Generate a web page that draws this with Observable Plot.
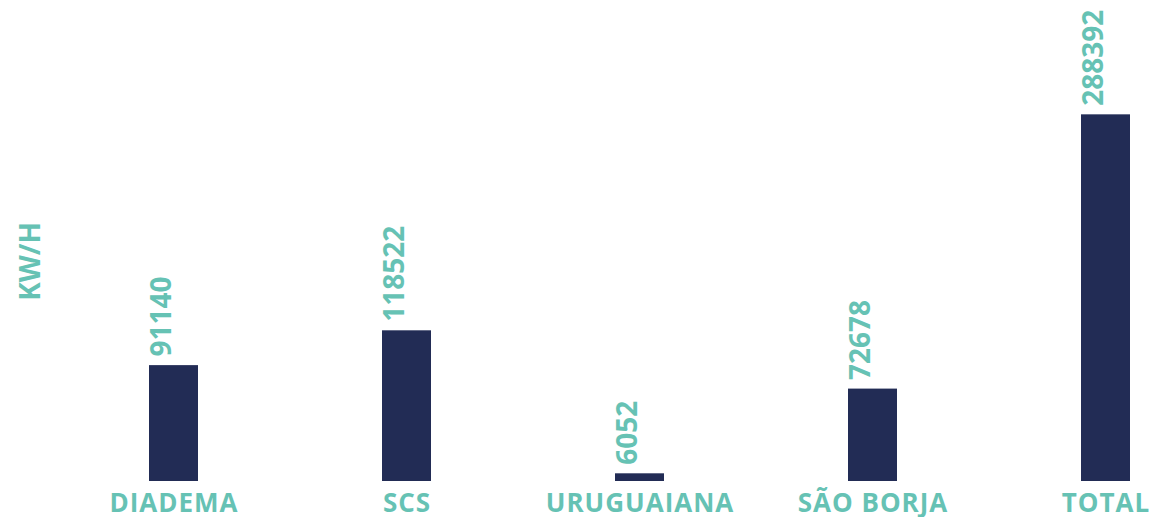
<!DOCTYPE html>
<html>
<head>
<meta charset="utf-8">
<script src="https://cdn.jsdelivr.net/npm/d3@7"></script>
<script src="https://cdn.jsdelivr.net/npm/@observablehq/plot@0.6"></script>
<style>
  html, body { margin: 0; padding: 0; background: #fff; }
  #chart svg { display: block; }
  #chart svg g[aria-label="x-axis tick label"] text { letter-spacing: 1px; }
</style>
</head>
<body>
<div id="chart"></div>
<script>
const categories = ["DIADEMA", "SCS", "URUGUAIANA", "SÃO BORJA", "TOTAL"];
const values = [91140, 118522, 6052, 72678, 288392];
const yLabel = "KW/H";

const data = categories.map((c, i) => ({cat: c, value: values[i]}));
const teal = "#66C2B4";
const navy = "#222C55";
const font = "'Open Sans', 'Noto Sans', sans-serif";

const chart = Plot.plot({
  width: 1167,
  height: 517,
  marginTop: 41,
  marginBottom: 36,
  marginLeft: 125,
  marginRight: 14,
  style: {fontFamily: font, background: "#fff"},
  x: {domain: categories, paddingInner: 0.79, paddingOuter: 0.1, label: null},
  y: {domain: [0, d3.max(values) * 1.2]},
  marks: [
    Plot.barY(data, {x: "cat", y: "value", fill: navy}),
    Plot.text(data, {
      x: "cat", y: "value", text: d => String(d.value),
      rotate: -90, textAnchor: "start", dy: -9, dx: -12,
      fill: teal, fontSize: 28, fontWeight: "bold"
    }),
    Plot.axisX({tickSize: 0, tickPadding: 12, fontSize: 26, fontWeight: "bold", color: teal, label: null}),
    Plot.axisY({ticks: [], label: yLabel, labelAnchor: "center", labelArrow: "none", labelOffset: 105, fontSize: 28, fontWeight: "bold", color: teal})
  ]
});
document.getElementById("chart").appendChild(chart);
</script>
</body>
</html>
